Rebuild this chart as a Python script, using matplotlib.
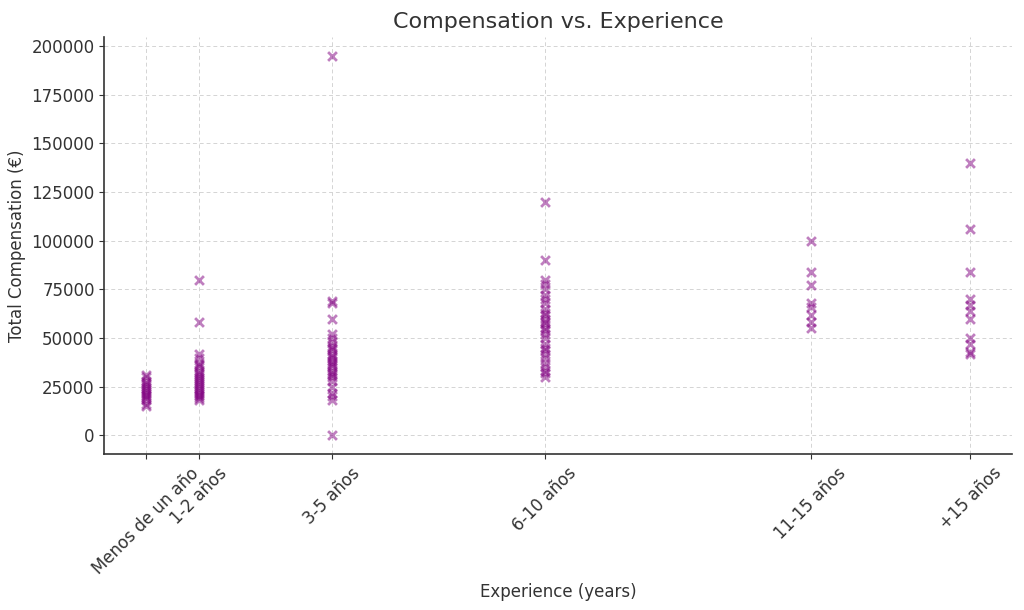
import matplotlib.pyplot as plt

# experience bucket -> numeric position on the x axis
exp_labels = ['Menos de un año', '1-2 años', '3-5 años', '6-10 años', '11-15 años', '+15 años']
exp_pos = [0.5, 1.5, 4, 8, 13, 16]

comp_lt1 = [15000, 16000, 18000, 19000, 20000, 21000, 22000, 23000, 24000, 25000,
            26000, 27000, 28000, 30000, 31000]
comp_1_2 = [18000, 19000, 20000, 21000, 22000, 23000, 24000, 25000, 26000, 27000,
            28000, 29000, 30000, 31000, 32000, 33000, 35000, 36000, 37000, 40000,
            42000, 58000, 80000]
comp_3_5 = [0, 18000, 20000, 22000, 25000, 28000, 30000, 31000, 32000, 33000, 35000,
            36000, 37000, 38000, 40000, 41000, 42000, 44000, 45000, 46000, 48000,
            50000, 52000, 60000, 68000, 69000, 195000]
comp_6_10 = [30000, 32000, 33000, 35000, 37000, 40000, 42000, 44000, 45000, 47000,
             50000, 52000, 54000, 55000, 57000, 58000, 60000, 62000, 63000, 65000,
             68000, 70000, 72000, 75000, 78000, 80000, 90000, 120000]
comp_11_15 = [55000, 58000, 62000, 66000, 68000, 77000, 84000, 100000]
comp_15p = [42000, 43000, 47000, 50000, 60000, 64000, 67000, 70000, 84000, 106000, 140000]

groups = [comp_lt1, comp_1_2, comp_3_5, comp_6_10, comp_11_15, comp_15p]

xs = []
ys = []
for p, vals in zip(exp_pos, groups):
    xs += [p] * len(vals)
    ys += vals

txt = '#333333'
plt.rcParams['text.color'] = txt
plt.rcParams['axes.labelcolor'] = txt
plt.rcParams['xtick.color'] = txt
plt.rcParams['ytick.color'] = txt

fig = plt.figure(figsize=(10.24, 6.1), dpi=100)
ax = fig.add_subplot(111)
ax.scatter(xs, ys, marker='x', color='purple', alpha=0.5, s=40, linewidths=2)

ax.set_xticks(exp_pos)
ax.set_xticklabels(exp_labels, rotation=45, fontsize=12)
ax.tick_params(axis='y', labelsize=12)
ax.set_title('Compensation vs. Experience', fontsize=16)
ax.set_xlabel('Experience (years)', fontsize=12)
ax.set_ylabel('Total Compensation (€)', fontsize=12)
# light dashed grid
ax.grid(True, linestyle=(0, (4, 3)), color='#d4d4d4', linewidth=0.7)
ax.set_axisbelow(True)
ax.spines['top'].set_visible(False)
ax.spines['right'].set_visible(False)
for s in ['left', 'bottom']:
    ax.spines[s].set_color('#333333')
    ax.spines[s].set_linewidth(1.2)

fig.subplots_adjust(left=0.102, right=0.988, top=0.94, bottom=0.255)
fig.savefig('out.png', dpi=100)
